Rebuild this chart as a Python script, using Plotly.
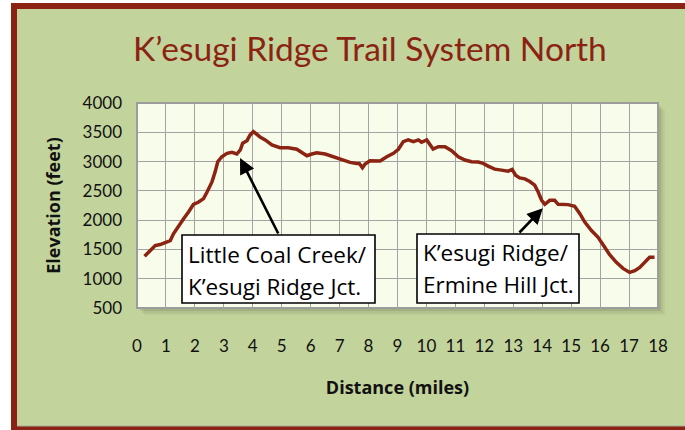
import plotly.graph_objects as go

# ---- data ----
distance_miles = [0.26, 0.46, 0.63, 0.80, 1.03, 1.15, 1.26, 1.44, 1.61, 1.78, 1.95, 2.13, 2.30, 2.42,
                  2.59, 2.70, 2.79, 2.93, 3.11, 3.28, 3.45, 3.57, 3.65, 3.80, 3.91, 4.02, 4.25, 4.43,
                  4.66, 4.94, 5.23, 5.52, 5.69, 5.87, 6.04, 6.21, 6.50, 6.78, 7.07, 7.36, 7.59, 7.68,
                  7.79, 7.88, 8.05, 8.40, 8.63, 8.86, 9.03, 9.20, 9.37, 9.55, 9.72, 9.83, 10.01, 10.12,
                  10.23, 10.41, 10.64, 10.87, 11.10, 11.33, 11.56, 11.79, 11.96, 12.13, 12.36, 12.59,
                  12.82, 12.96, 13.08, 13.22, 13.40, 13.57, 13.74, 13.86, 13.98, 14.09, 14.26, 14.43,
                  14.55, 14.89, 15.12, 15.30, 15.47, 15.70, 15.93, 16.16, 16.33, 16.56, 16.79, 17.02,
                  17.20, 17.37, 17.54, 17.71, 17.88]
elevation_feet = [1382, 1480, 1566, 1583, 1622, 1651, 1766, 1909, 2025, 2138, 2270, 2310, 2368, 2481,
                  2653, 2825, 2997, 3083, 3141, 3158, 3129, 3198, 3313, 3357, 3455, 3512, 3420, 3370,
                  3284, 3237, 3237, 3210, 3151, 3100, 3129, 3151, 3129, 3083, 3043, 2986, 2969, 2969,
                  2894, 2957, 3014, 3009, 3083, 3141, 3210, 3340, 3370, 3340, 3370, 3330, 3370, 3284,
                  3215, 3254, 3254, 3186, 3083, 3026, 2997, 2992, 2969, 2923, 2871, 2854,
                  2837, 2866, 2768, 2722, 2705, 2660, 2596, 2481, 2339, 2270, 2339, 2339,
                  2270, 2265, 2236, 2110, 1966, 1823, 1708, 1536, 1411, 1279, 1176, 1107,
                  1136, 1193, 1279, 1365, 1365]

x_ticks = list(range(0, 19))
y_ticks = [500, 1000, 1500, 2000, 2500, 3000, 3500, 4000]

title_text = "K’esugi Ridge Trail System North"
x_title = "Distance (miles)"
y_title = "Elevation (feet)"

callout_labels = [["Little Coal Creek/", "K’esugi Ridge Jct."],
                  ["K’esugi Ridge/", "Ermine Hill Jct."]]
callout_targets_mile = [3.56, 14.02]
callout_targets_feet = [3061, 2203]

# ---- layout geometry (pixels) ----
W, H = 685, 430
L, R, T, B = 137, 658, 103, 308


def px(x):
    return (x - L) / (R - L)


def py(y):
    return (B - y) / (B - T)


LINE_RED = "#8B2413"
FONT = "Lato"

fig = go.Figure()
fig.add_trace(go.Scatter(x=distance_miles, y=elevation_feet, mode="lines",
                         line=dict(color=LINE_RED, width=3.5), showlegend=False,
                         hoverinfo="skip"))

shapes = []
# outer frame: red border on white page, green panel inside
shapes.append(dict(type="rect", xref="paper", yref="paper", x0=px(11), x1=px(W + 20),
                   y0=py(H + 20), y1=py(3), fillcolor="#8A2314", line=dict(width=0), layer="below"))
shapes.append(dict(type="rect", xref="paper", yref="paper", x0=px(17), x1=px(W + 20),
                   y0=py(426), y1=py(9), fillcolor="#C2D39C", line=dict(width=0), layer="below"))
shapes.append(dict(type="line", xref="paper", yref="paper", x0=px(17), x1=px(W + 20),
                   y0=py(426), y1=py(426), line=dict(color="#A9AE9C", width=1), layer="below"))
# soft drop shadow of plot area
for off, a in [(7, 0.06), (5, 0.08), (3, 0.12)]:
    shapes.append(dict(type="rect", xref="paper", yref="paper", x0=px(L + off), x1=px(R + off),
                       y0=py(B + off), y1=py(T + off), fillcolor=f"rgba(60,70,40,{a})",
                       line=dict(width=0), layer="below"))
# plot area fill
shapes.append(dict(type="rect", xref="paper", yref="paper", x0=0, x1=1, y0=0, y1=1,
                   fillcolor="#F8FCEA", line=dict(color="#9C9C9C", width=2), layer="below"))

# callout boxes
boxes = [(182, 375, 235, 303), (417, 579, 234, 303)]
for (x0, x1, y0, y1) in boxes:
    shapes.append(dict(type="rect", xref="paper", yref="paper", x0=px(x0), x1=px(x1),
                       y0=py(y1), y1=py(y0), fillcolor="white",
                       line=dict(color="black", width=1.6), layer="above"))

annotations = []
annotations.append(dict(text=title_text, xref="paper", yref="paper", x=px(370), y=py(48),
                        xanchor="center", yanchor="middle", showarrow=False,
                        font=dict(family=FONT, size=33.5, color="#8B2313")))

text_pos = [[(186, 254), (186, 286)], [(421, 252), (421, 284)]]
for labels, poss in zip(callout_labels, text_pos):
    for lab, (tx, ty) in zip(labels, poss):
        annotations.append(dict(text=lab, xref="paper", yref="paper", x=px(tx), y=py(ty),
                                xanchor="left", yanchor="middle", showarrow=False,
                                font=dict(family="Open Sans", size=22.5, color="black")))

tails = [(279, 235), (518, 234)]
for xm, yf, (tx, ty) in zip(callout_targets_mile, callout_targets_feet, tails):
    annotations.append(dict(text="", x=xm, y=yf, xref="x", yref="y",
                            axref="pixel", ayref="pixel",
                            ax=tx - (L + (xm - 0) / 18 * (R - L)),
                            ay=ty - (T + (4000 - yf) / 3500 * (B - T)),
                            showarrow=True, arrowhead=2, arrowsize=1.2, arrowwidth=2.6,
                            arrowcolor="black", standoff=0, startstandoff=0))

fig.update_layout(
    width=W, height=H,
    margin=dict(l=L, r=W - R, t=T, b=H - B, pad=0),
    paper_bgcolor="white",
    plot_bgcolor="rgba(0,0,0,0)",
    shapes=shapes,
    annotations=annotations,
    showlegend=False,
    xaxis=dict(range=[0, 18], tickvals=x_ticks, ticktext=[str(v) for v in x_ticks],
               showgrid=True, gridcolor="#A3A3A3", gridwidth=1.4, zeroline=False,
               showline=False, ticks="", ticklabelstandoff=26,
               tickfont=dict(family=FONT, size=17, color="#111111"),
               title=dict(text=f"<b>{x_title}</b>", standoff=26,
                          font=dict(family="Open Sans", size=18, color="#111111"))),
    yaxis=dict(range=[500, 4000], tickvals=y_ticks, showgrid=True, gridcolor="#A3A3A3",
               gridwidth=1.4, zeroline=False, showline=False, ticks="",
               ticklabelstandoff=14,
               tickfont=dict(family=FONT, size=17, color="#111111"),
               title=dict(text=f"<b>{y_title}</b>", standoff=17,
                          font=dict(family="Open Sans", size=18, color="#111111"))),
)

fig.write_html("out.html", config={"displayModeBar": False},
               post_script="document.body.style.margin='0px';")
